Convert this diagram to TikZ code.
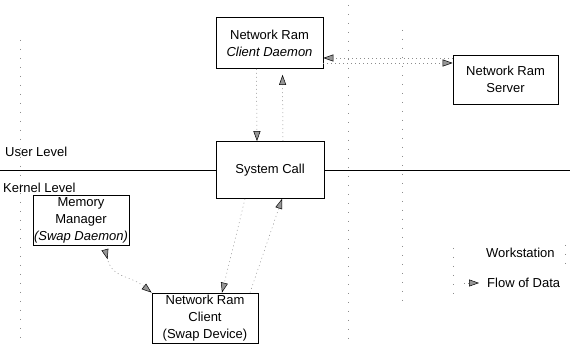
\documentclass[tikz,border=0pt]{standalone}
\usepackage{fontspec}
\setmainfont{Liberation Sans}
\usetikzlibrary{arrows.meta,calc,decorations.markings}
\definecolor{scanGrey}{RGB}{140,140,140}
\definecolor{tipFill}{RGB}{150,150,150}
\tikzset{
  procbox/.style={
    rectangle, draw=black, line width=0.7pt, align=center,
    inner sep=1pt, font=\fontsize{13}{17}\selectfont},
  flowline/.style={draw=scanGrey, line width=0.5pt, dash pattern=on 1pt off 3pt,
    -{Triangle[length=10pt,width=7pt,color=black,fill=tipFill]}},
  midflow/.style={flowline, postaction={decorate},
    decoration={markings, mark=at position 14pt with
      {\arrow{Triangle[length=10pt,width=7pt,color=black,fill=tipFill]}}}},
  wsline/.style={draw=scanGrey, line width=0.6pt, dash pattern=on 1pt off 8pt},
  levelline/.style={draw=black, line width=0.6pt},
  lbl/.style={font=\fontsize{13}{15}\selectfont, inner sep=0pt, anchor=west}
}

\begin{document}
\begin{tikzpicture}[x=1pt,y=1pt]
    \useasboundingbox (0,0) rectangle (570,347);

    % workstation boundaries
    \draw[wsline] (20,307) -- (20,7);
    \draw[wsline] (348,342) -- (348,2);
    \draw[wsline] (402,317) -- (402,42);

    % processes
    \node[procbox, minimum width=107, minimum height=51] (dmn) at (269.5,304)
        {Network Ram\\ \itshape Client Daemon};
    \node[procbox, minimum width=105, minimum height=49] (srv) at (505.5,267.5)
        {Network Ram\\ Server};
    \node[procbox, minimum width=108, minimum height=57] (sys) at (270,177)
        {System Call};
    \node[procbox, minimum width=96, minimum height=50, inner sep=0pt] (mm) at (81,127)
        {Memory\\ Manager\\ \itshape (Swap Daemon)};
    \node[procbox, minimum width=106, minimum height=50, inner sep=0pt] (nrc) at (205,29)
        {Network Ram\\ Client\\ (Swap Device)};

    % user / kernel boundary
    \coordinate (lvlW) at (0,177);
    \coordinate (lvlE) at (570,177);
    \draw[levelline] (lvlW) -- (sys.west);
    \draw[levelline] (sys.east) -- (lvlE);
    \node[lbl] (userlbl) at (5,195) {User Level};
    \node[lbl] (kernlbl) at (3,159) {Kernel Level};

    % flow of data
    \draw[flowline] ([xshift=-13]dmn.south) -- ([xshift=-13]sys.north);
    \draw[flowline, shorten >=6pt] ([xshift=13]sys.north) -- ([xshift=13]dmn.south);
    \draw[flowline] ([yshift=-20]dmn.east) -- ([yshift=16.5]srv.west);
    \draw[flowline] ([yshift=21.5]srv.west) -- ([yshift=-15]dmn.east);
    \draw[midflow] ([xshift=25]mm.south) .. controls +(0,-35) and +(-25,20) .. (nrc.north west);
    \draw[flowline] ([xshift=-25]sys.south) -- ([xshift=17]nrc.north);
    \draw[flowline] ([xshift=45]nrc.north) -- ([xshift=12]sys.south);

    % legend
    \draw[wsline] (453,99) -- (453,49);
    \draw[wsline] (565,102) -- (565,82);
    \node[lbl] (wslbl) at (486,94) {Workstation};
    \node[lbl] (flowlbl) at (487,64) {Flow of Data};
    \coordinate (legtail) at (464,64);
    \draw[flowline, shorten >=8pt] (legtail) -- (flowlbl.west);
\end{tikzpicture}
\end{document}
